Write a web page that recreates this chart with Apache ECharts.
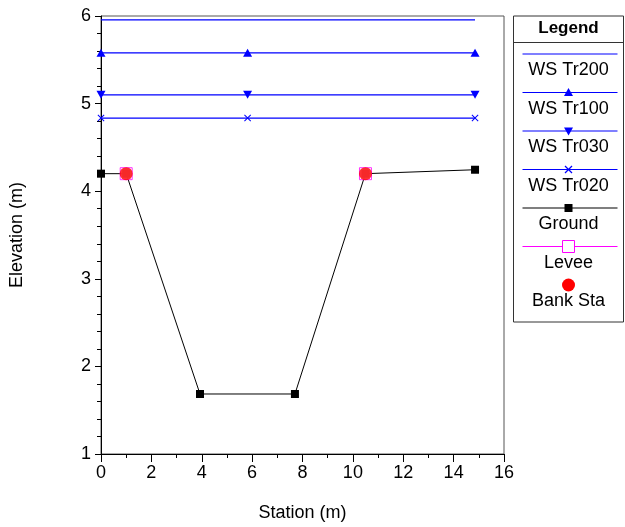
<!DOCTYPE html>
<html>
<head>
<meta charset="utf-8">
<script src="https://cdn.jsdelivr.net/npm/echarts@6/dist/echarts.min.js"></script>
<style>
html,body{margin:0;padding:0;background:#fff;}
#chart{width:625px;height:527px;}
</style>
</head>
<body>
<div id="chart"></div>
<script>
// ---- data ----
const wsStations = [0, 5.82, 14.85];
const wsTr200 = [5.955, 5.955, 5.955];
const wsTr100 = [5.58, 5.58, 5.58];
const wsTr030 = [5.10, 5.10, 5.10];
const wsTr020 = [4.835, 4.835, 4.835];
const groundStations = [0, 1.0, 3.93, 7.7, 10.5, 14.85];
const groundElev = [4.2, 4.2, 1.685, 1.685, 4.2, 4.245];
const leveeStations = [1.0, 10.5];
const leveeElev = [4.2, 4.2];
const bankStations = [1.0, 10.5];
const bankElev = [4.2, 4.2];
const legendNames = ['WS Tr200', 'WS Tr100', 'WS Tr030', 'WS Tr020', 'Ground', 'Levee', 'Bank Sta'];
const xTitle = 'Station (m)';
const yTitle = 'Elevation (m)';

const FONT = '"Liberation Sans", Arial, sans-serif';
const BLUE = '#0000ff';
const XSYM = 'path://M0,1 L1,0 L5,4 L9,0 L10,1 L6,5 L10,9 L9,10 L5,6 L1,10 L0,9 L4,5 Z';

function pairs(xs, ys) { return xs.map((x, i) => [x, ys[i]]); }

// ---- legend graphic (drawn manually: icon above label) ----
const LX = 513.5, LY = 16, LW = 110, LH = 306;
const cx = LW / 2;
const lineY0 = 38, step = 38.5;
const legendEls = [
  { type: 'rect', shape: { x: 0, y: 0, width: LW, height: LH }, style: { fill: '#fff', stroke: '#333', lineWidth: 1 } },
  { type: 'line', shape: { x1: 0, y1: 26.5, x2: LW, y2: 26.5 }, style: { stroke: '#333', lineWidth: 1 } },
  { type: 'text', x: cx, y: 12, style: { text: 'Legend', font: 'bold 17px ' + FONT, fill: '#000', align: 'center', verticalAlign: 'middle' } }
];
const legendStyles = [
  { color: BLUE, sym: null },
  { color: BLUE, sym: 'up' },
  { color: BLUE, sym: 'down' },
  { color: BLUE, sym: 'x' },
  { color: '#000', sym: 'sq' },
  { color: '#ff00ff', sym: 'hsq' },
  { color: null, sym: 'circle' }
];
legendNames.forEach((name, i) => {
  const ly = lineY0 + i * step;
  const s = legendStyles[i];
  if (s.color) {
    legendEls.push({ type: 'line', shape: { x1: 9, y1: ly, x2: 104, y2: ly }, style: { stroke: s.color, lineWidth: 1.2 } });
  }
  if (s.sym === 'up') legendEls.push({ type: 'polygon', shape: { points: [[cx - 4.5, ly + 3.5], [cx + 4.5, ly + 3.5], [cx, ly - 4.5]] }, style: { fill: BLUE } });
  if (s.sym === 'down') legendEls.push({ type: 'polygon', shape: { points: [[cx - 4.5, ly - 3.5], [cx + 4.5, ly - 3.5], [cx, ly + 4.5]] }, style: { fill: BLUE } });
  if (s.sym === 'x') {
    legendEls.push({ type: 'line', shape: { x1: cx - 3.5, y1: ly - 3.5, x2: cx + 3.5, y2: ly + 3.5 }, style: { stroke: BLUE, lineWidth: 1.2 } });
    legendEls.push({ type: 'line', shape: { x1: cx + 3.5, y1: ly - 3.5, x2: cx - 3.5, y2: ly + 3.5 }, style: { stroke: BLUE, lineWidth: 1.2 } });
  }
  if (s.sym === 'sq') legendEls.push({ type: 'rect', shape: { x: cx - 4, y: ly - 4, width: 8, height: 8 }, style: { fill: '#000' } });
  if (s.sym === 'hsq') legendEls.push({ type: 'rect', shape: { x: cx - 6, y: ly - 6, width: 12, height: 12 }, style: { fill: '#fff', stroke: '#ff00ff', lineWidth: 1 } });
  if (s.sym === 'circle') legendEls.push({ type: 'circle', shape: { cx: cx, cy: ly, r: 6.5 }, style: { fill: '#ff0000' } });
  legendEls.push({ type: 'text', x: cx, y: ly + 16.5, style: { text: name, font: '18px ' + FONT, fill: '#000', align: 'center', verticalAlign: 'middle' } });
});

const chart = echarts.init(document.getElementById('chart'), null, { renderer: 'canvas' });
const axisCommon = {
  axisLine: { show: true, onZero: false, lineStyle: { color: '#000', width: 1 } },
  axisLabel: { color: '#000', fontSize: 18, fontFamily: FONT },
  splitLine: { show: false },
  minorSplitLine: { show: false },
  nameTextStyle: { color: '#000', fontSize: 18, fontFamily: FONT }
};
chart.setOption({
  animation: false,
  backgroundColor: '#fff',
  grid: { left: 101, right: 121, top: 16, bottom: 72, show: true, borderColor: '#555', borderWidth: 1, backgroundColor: 'transparent' },
  xAxis: Object.assign({}, axisCommon, {
    type: 'value', min: 0, max: 16, interval: 2,
    axisTick: { show: true, inside: false, length: 8, lineStyle: { color: '#000' } },
    minorTick: { show: true, splitNumber: 2, length: 4, lineStyle: { color: '#000' } },
    axisLabel: Object.assign({}, axisCommon.axisLabel, { margin: 10 }),
    name: xTitle, nameLocation: 'middle', nameGap: 50
  }),
  yAxis: Object.assign({}, axisCommon, {
    type: 'value', min: 1, max: 6, interval: 1,
    axisTick: { show: true, inside: false, length: 6, lineStyle: { color: '#000' } },
    minorTick: { show: true, splitNumber: 5, length: 4, lineStyle: { color: '#000' } },
    axisLabel: Object.assign({}, axisCommon.axisLabel, { margin: 10 }),
    name: yTitle, nameLocation: 'middle', nameGap: 75
  }),
  graphic: [{ type: 'group', x: LX, y: LY, children: legendEls }],
  series: [
    { name: 'WS Tr200', type: 'line', z: 2, data: pairs(wsStations, wsTr200), showSymbol: false, symbol: 'none', lineStyle: { color: BLUE, width: 1.2 }, itemStyle: { color: BLUE } },
    { name: 'WS Tr100', type: 'line', z: 2, data: pairs(wsStations, wsTr100), symbol: 'triangle', symbolSize: [9, 8], lineStyle: { color: BLUE, width: 1.2 }, itemStyle: { color: BLUE } },
    { name: 'WS Tr030', type: 'line', z: 2, data: pairs(wsStations, wsTr030), symbol: 'triangle', symbolRotate: 180, symbolSize: [9, 8], lineStyle: { color: BLUE, width: 1.2 }, itemStyle: { color: BLUE } },
    { name: 'WS Tr020', type: 'line', z: 2, data: pairs(wsStations, wsTr020), symbol: XSYM, symbolSize: 7, lineStyle: { color: BLUE, width: 1.2 }, itemStyle: { color: BLUE } },
    { name: 'Ground', type: 'line', z: 3, data: pairs(groundStations, groundElev), symbol: 'rect', symbolSize: 8, lineStyle: { color: '#000', width: 1 }, itemStyle: { color: '#000' } },
    { name: 'Levee', type: 'scatter', z: 5, data: pairs(leveeStations, leveeElev), symbol: 'rect', symbolSize: 12, itemStyle: { color: '#fff', borderColor: '#ff00ff', borderWidth: 1 } },
    { name: 'Bank Sta', type: 'scatter', z: 6, data: pairs(bankStations, bankElev), symbol: 'circle', symbolSize: 13, itemStyle: { color: '#ff0000' } }
  ]
});
</script>
</body>
</html>
